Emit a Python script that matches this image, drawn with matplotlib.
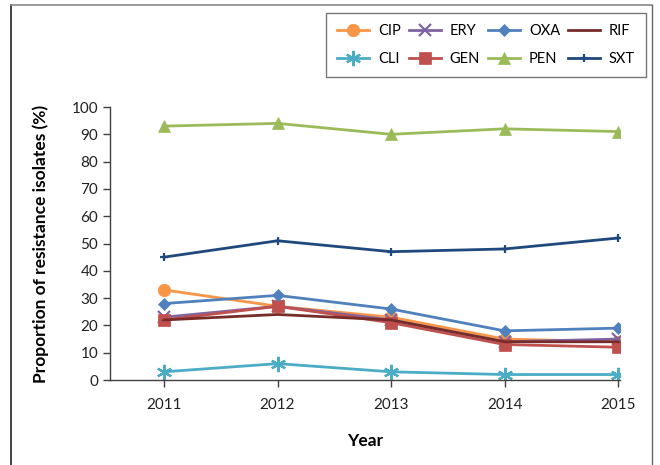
import numpy as np
import matplotlib.pyplot as plt
from matplotlib.lines import Line2D

plt.rcParams['font.family'] = ['Lato', 'DejaVu Sans']

years = ["2011", "2012", "2013", "2014", "2015"]
drugs = ["CIP", "CLI", "ERY", "GEN", "OXA", "PEN", "RIF", "SXT"]
cip = [33, 27, 23, 15, 14]
cli = [3, 6, 3, 2, 2]
ery = [23, 27, 22, 14, 15]
gen = [22, 27, 21, 13, 12]
oxa = [28, 31, 26, 18, 19]
pen = [93, 94, 90, 92, 91]
rif = [22, 24, 22, 14, 14]
sxt = [45, 51, 47, 48, 52]

series = {"CIP": cip, "CLI": cli, "ERY": ery, "GEN": gen,
          "OXA": oxa, "PEN": pen, "RIF": rif, "SXT": sxt}
colors = {"CIP": "#F79646", "CLI": "#4BACC6", "ERY": "#8064A2", "GEN": "#C0504D",
          "OXA": "#4F81BD", "PEN": "#9BBB59", "RIF": "#772C2A", "SXT": "#1F497D"}
markers = {"CIP": ("o", 9), "CLI": ((6, 2, 0), 11), "ERY": ("x", 8), "GEN": ("s", 9),
           "OXA": ("D", 6), "PEN": ("^", 9), "RIF": ("_", 4), "SXT": ("+", 6)}

fig = plt.figure(figsize=(6.6, 4.65), dpi=100)
ax = fig.add_axes([110 / 660, 85 / 465, 510 / 660, 273 / 465])

x = np.arange(len(years))
for d in drugs:
    m, ms = markers[d]
    ax.plot(x, series[d], color=colors[d], linewidth=2.0, marker=m, markersize=ms,
            markeredgewidth=1.6 if d in ("CLI", "ERY", "SXT") else 0.5,
            markeredgecolor=colors[d], label=d)

ax.set_xlim(-0.476, 4.017)
ax.set_ylim(0, 100)
ax.set_xticks(x)
ax.set_xticklabels(years)
ax.set_yticks(range(0, 101, 10))
ax.tick_params(labelsize=11, length=5, width=1, color="#404040", labelcolor="#222222")
ax.tick_params(axis="x", pad=8)
for s in ["top", "right"]:
    ax.spines[s].set_visible(False)
for s in ["left", "bottom"]:
    ax.spines[s].set_color("#404040")
    ax.spines[s].set_linewidth(1)

ax.set_xlabel("Year", fontsize=12.5, fontweight="bold", labelpad=15)
ax.set_ylabel("Proportion of resistance isolates (%)", fontsize=12.5, fontweight="bold", labelpad=16)

leg = ax.legend(ncol=4, loc="upper right", bbox_to_anchor=(646 / 660, 1 - 13 / 465),
                bbox_transform=fig.transFigure, fontsize=10.5, frameon=True, fancybox=False,
                edgecolor="#555555", handlelength=2.2, handletextpad=0.6, columnspacing=0.55,
                borderpad=0.75, labelspacing=0.95, borderaxespad=0)
leg.get_frame().set_linewidth(1)

# outer frame of the figure
fig.add_artist(Line2D([11 / 660, 11 / 660], [0, 1 - 5 / 465], transform=fig.transFigure, color="#222222", lw=1.2))
fig.add_artist(Line2D([11 / 660, 652 / 660], [1 - 5 / 465, 1 - 5 / 465], transform=fig.transFigure, color="#888888", lw=1.2))
fig.add_artist(Line2D([652 / 660, 652 / 660], [0, 1 - 5 / 465], transform=fig.transFigure, color="#666666", lw=1))

fig.savefig("out.png", dpi=100)
